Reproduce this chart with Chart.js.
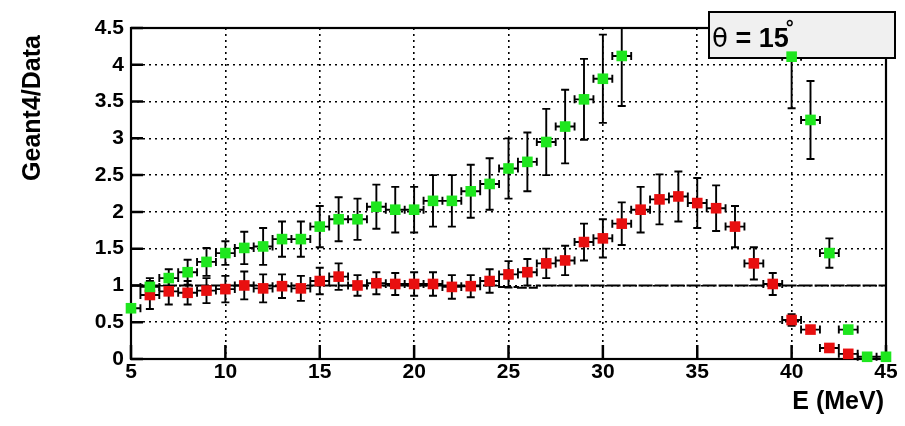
<!DOCTYPE html>
<html>
<head>
<meta charset="utf-8">
<script src="https://cdn.jsdelivr.net/npm/chart.js@4.4.0/dist/chart.umd.min.js"></script>
<style>
html, body { margin: 0; padding: 0; background: #fff; }
#wrap { width: 905px; height: 426px; }
</style>
</head>
<body>
<div id="wrap"><canvas id="c" width="905" height="426"></canvas></div>
<script>
// --- data ---
const energyGreen = [5, 6, 7, 8, 9, 10, 11, 12, 13, 14, 15, 16, 17, 18, 19, 20, 21, 22, 23, 24, 25, 26, 27, 28, 29, 30, 31, 40, 41, 42, 43, 44, 45];
const ratioGreen  = [0.69, 0.98, 1.10, 1.18, 1.32, 1.44, 1.51, 1.53, 1.63, 1.63, 1.80, 1.90, 1.90, 2.07, 2.03, 2.03, 2.15, 2.15, 2.28, 2.38, 2.59, 2.68, 2.95, 3.16, 3.53, 3.81, 4.12, 4.11, 3.25, 1.44, 0.40, 0.03, 0.03];
const errGreen    = [0.05, 0.12, 0.12, 0.17, 0.19, 0.16, 0.22, 0.25, 0.24, 0.24, 0.28, 0.30, 0.28, 0.30, 0.31, 0.31, 0.35, 0.35, 0.36, 0.35, 0.41, 0.40, 0.45, 0.50, 0.55, 0.60, 0.68, 0.70, 0.53, 0.20, 0.05, 0.01, 0.01];

const energyRed = [6, 7, 8, 9, 10, 11, 12, 13, 14, 15, 16, 17, 18, 19, 20, 21, 22, 23, 24, 25, 26, 27, 28, 29, 30, 31, 32, 33, 34, 35, 36, 37, 38, 39, 40, 41, 42, 43];
const ratioRed  = [0.87, 0.92, 0.90, 0.93, 0.95, 1.00, 0.96, 0.99, 0.96, 1.06, 1.12, 1.00, 1.03, 1.02, 1.02, 1.02, 0.98, 0.99, 1.06, 1.15, 1.18, 1.30, 1.34, 1.59, 1.64, 1.84, 2.03, 2.17, 2.21, 2.12, 2.05, 1.80, 1.30, 1.02, 0.53, 0.40, 0.15, 0.07];
const errRed    = [0.19, 0.18, 0.16, 0.17, 0.18, 0.19, 0.19, 0.16, 0.17, 0.18, 0.18, 0.14, 0.15, 0.15, 0.16, 0.16, 0.16, 0.15, 0.16, 0.18, 0.18, 0.20, 0.20, 0.25, 0.26, 0.29, 0.31, 0.34, 0.34, 0.34, 0.31, 0.28, 0.22, 0.15, 0.08, 0.04, 0.02, 0.01];

// reference line (ratio = 1)
const energyRef = [5, 6, 7, 8, 9, 10, 11, 12, 13, 14, 15, 16, 17, 18, 19, 20, 21, 22, 23, 24, 25, 26, 27, 28, 29, 30, 31, 32, 33, 34, 35, 36, 37, 38, 39, 40, 41, 42, 43, 44, 45];
const ratioRef  = [1, 1, 1, 1, 1, 1, 1, 1, 1, 1, 1, 1, 1, 1, 1, 1, 1, 1, 1, 1, 0.98, 0.97, 1, 1, 1, 1, 1, 1, 1, 1, 1, 1, 1, 1, 1, 1, 1, 1, 1, 1, 1];

const xMin = 5, xMax = 45, xStep = 5;
const yMin = 0, yMax = 4.5, yStep = 0.5;
const xTitle = 'E (MeV)';
const yTitle = 'Geant4/Data';
const paveText = ['\u03B8', ' = 15', '\u00B0'];

const toPoints = (xs, ys) => xs.map((v, i) => ({ x: v, y: ys[i] }));

// error bars (black, with caps), horizontal bars are +-0.5 MeV
function drawErrors(ctx, xs, ys, es, sx, sy) {
    ctx.beginPath();
    xs.forEach((e, i) => {
        const px = sx.getPixelForValue(e);
        const py = sy.getPixelForValue(ys[i]);
        const x0 = sx.getPixelForValue(e - 0.5), x1 = sx.getPixelForValue(e + 0.5);
        ctx.moveTo(x0, py); ctx.lineTo(x1, py);
        ctx.moveTo(x0, py - 4); ctx.lineTo(x0, py + 4);
        ctx.moveTo(x1, py - 4); ctx.lineTo(x1, py + 4);
        if (es[i] > 0.015) {
            const y0 = sy.getPixelForValue(ys[i] - es[i]), y1 = sy.getPixelForValue(ys[i] + es[i]);
            ctx.moveTo(px, y0); ctx.lineTo(px, y1);
            ctx.moveTo(px - 4, y0); ctx.lineTo(px + 4, y0);
            ctx.moveTo(px - 4, y1); ctx.lineTo(px + 4, y1);
        }
    });
    ctx.stroke();
}

const rootStyle = {
    id: 'rootStyle',
    beforeDatasetsDraw(chart) {
        const { ctx, chartArea: a, scales: { x, y } } = chart;
        ctx.save();
        ctx.strokeStyle = '#000';
        ctx.lineWidth = 2.2;
        ctx.strokeRect(a.left, a.top, a.right - a.left, a.bottom - a.top);

        // ticks pointing inward, left and bottom only
        ctx.lineWidth = 2.5;
        ctx.beginPath();
        y.ticks.forEach(t => {
            const py = y.getPixelForValue(t.value);
            ctx.moveTo(a.left, py); ctx.lineTo(a.left + 12, py);
        });
        x.ticks.forEach(t => {
            const px = x.getPixelForValue(t.value);
            ctx.moveTo(px, a.bottom); ctx.lineTo(px, a.bottom - 14);
        });
        ctx.stroke();

        ctx.save();
        ctx.beginPath();
        ctx.rect(a.left, a.top, a.right - a.left, a.bottom - a.top + 6);
        ctx.clip();
        ctx.lineWidth = 1.9;
        drawErrors(ctx, energyRed, ratioRed, errRed, x, y);
        drawErrors(ctx, energyGreen, ratioGreen, errGreen, x, y);
        ctx.restore();

        // theta pave
        ctx.fillStyle = '#f0f0f0';
        ctx.fillRect(709, 12, 186, 46);
        ctx.lineWidth = 2;
        ctx.strokeRect(709, 12, 186, 46);
        ctx.fillStyle = '#000';
        ctx.textBaseline = 'alphabetic';
        ctx.textAlign = 'left';
        ctx.font = '26px "DejaVu Sans"';
        ctx.fillText(paveText[0], 712, 47);
        let px = 712 + ctx.measureText(paveText[0]).width;
        ctx.font = 'bold 27px "Liberation Sans"';
        ctx.fillText(paveText[1], px, 47);
        px += ctx.measureText(paveText[1]).width;
        ctx.font = 'bold 20px "Liberation Sans"';
        ctx.fillText(paveText[2], px - 3, 34);
        ctx.restore();
    },
    afterDraw(chart) {
        const { ctx } = chart;
        ctx.save();
        ctx.fillStyle = '#000';
        ctx.font = 'bold 25px "Liberation Sans"';
        ctx.textAlign = 'right';
        ctx.textBaseline = 'alphabetic';
        ctx.fillText(xTitle, 884, 409);
        ctx.translate(33, 108);
        ctx.rotate(-Math.PI / 2);
        ctx.textAlign = 'center';
        ctx.textBaseline = 'middle';
        ctx.fillText(yTitle, 0, 0);
        ctx.restore();
    }
};

const tickFont = { family: '"Liberation Sans"', size: 21, weight: 'bold' };

new Chart(document.getElementById('c').getContext('2d'), {
    type: 'scatter',
    data: {
        datasets: [
            {
                label: 'green',
                data: toPoints(energyGreen, ratioGreen),
                pointStyle: 'rect',
                pointRadius: 7.5,
                backgroundColor: '#1ee61e',
                borderColor: '#1ee61e',
                borderWidth: 0,
                clip: false
            },
            {
                label: 'red',
                data: toPoints(energyRed, ratioRed),
                pointStyle: 'rect',
                pointRadius: 7.5,
                backgroundColor: '#e80f0f',
                borderColor: '#e80f0f',
                borderWidth: 0,
                clip: false
            },
            {
                label: 'ref',
                data: toPoints(energyRef, ratioRef),
                showLine: true,
                stepped: 'middle',
                pointRadius: 0,
                borderColor: '#000',
                borderWidth: 2,
                borderDash: [14, 2]
            }
        ]
    },
    options: {
        responsive: false,
        animation: false,
        layout: { padding: { left: 0, top: 28, right: 19, bottom: 0 } },
        plugins: { legend: { display: false }, tooltip: { enabled: false } },
        scales: {
            x: {
                type: 'linear', min: xMin, max: xMax,
                ticks: { stepSize: xStep, color: '#000', font: tickFont, padding: 1, maxRotation: 0 },
                grid: { color: '#000', lineWidth: 1.6, drawTicks: false },
                border: { display: false, dash: [2, 4] },
                afterFit(s) { s.height = 67; }
            },
            y: {
                min: yMin, max: yMax,
                ticks: { stepSize: yStep, color: '#000', font: tickFont, padding: 7,
                         callback: v => String(Math.round(v * 10) / 10) },
                grid: { color: '#000', lineWidth: 1.6, drawTicks: false },
                border: { display: false, dash: [2, 4] },
                afterFit(s) { s.width = 131; }
            }
        }
    },
    plugins: [rootStyle]
});
</script>
</body>
</html>
